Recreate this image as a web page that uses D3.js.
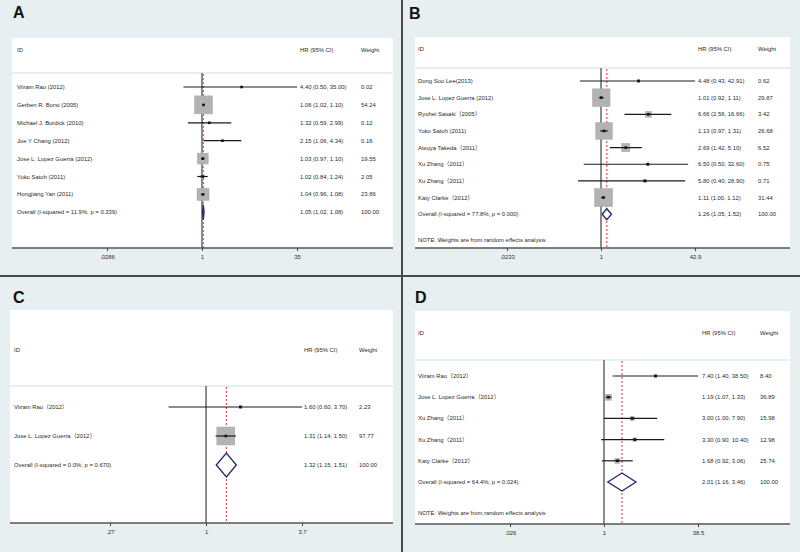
<!DOCTYPE html>
<html><head><meta charset="utf-8">
<script src="https://cdn.jsdelivr.net/npm/d3@7"></script>
<style>
body{margin:0;background:#e8eff1;}
svg{display:block;font-family:"Liberation Sans",Arial,"Noto Sans CJK SC",sans-serif;}
</style>
</head><body>
<svg id="chart" width="800" height="552"></svg>
<script>
// ---------- DATA ----------
// Panel A
const studiesA = ["Viiram Rao (2012)","Gerben R. Borst (2005)","Michael J. Burdick (2010)","Joe Y Chang (2012)","Jose L. Lopez Guerra (2012)","Yoko Satoh (2011)","Hongjiang Yan (2011)"];
const hrA     = [4.40, 1.06, 1.32, 2.15, 1.03, 1.02, 1.04];
const lowA    = [0.50, 1.02, 0.59, 1.06, 0.97, 0.84, 0.96];
const highA   = [35.00, 1.10, 2.99, 4.34, 1.10, 1.24, 1.08];
const weightA = [0.02, 54.24, 0.12, 0.16, 19.55, 2.05, 23.86];
const overallA = [1.05, 1.02, 1.08];
const overallLabelA = "Overall  (I-squared = 11.9%, p = 0.339)";
const ticksA = [0.0286, 1, 35];
const tickLabelsA = [".0286", "1", "35"];

// Panel B
const studiesB = ["Dong Soo Lee(2013)","Jose L. Lopez Guerra (2012)","Ryohei Sasaki（2005）","Yoko Satoh (2011)","Atsuya Takeda（2011）","Xu Zhang（2011）","Xu Zhang（2011）","Katy Clarke（2012）"];
const hrB     = [4.48, 1.01, 6.66, 1.13, 2.69, 6.50, 5.80, 1.11];
const lowB    = [0.43, 0.92, 2.56, 0.97, 1.42, 0.50, 0.40, 1.00];
const highB   = [42.91, 1.11, 16.66, 1.31, 5.10, 32.60, 28.90, 1.12];
const weightB = [0.62, 29.87, 3.42, 26.68, 6.52, 0.75, 0.71, 31.44];
const overallB = [1.26, 1.05, 1.52];
const overallLabelB = "Overall  (I-squared = 77.8%, p = 0.000)";
const ticksB = [0.0233, 1, 42.9];
const tickLabelsB = [".0233", "1", "42.9"];

// Panel C
const studiesC = ["Viiram Rao（2012）","Jose L. Lopez Guerra（2012）"];
const hrC     = [1.60, 1.31];
const lowC    = [0.60, 1.14];
const highC   = [3.70, 1.50];
const weightC = [2.23, 97.77];
const overallC = [1.32, 1.15, 1.51];
const overallLabelC = "Overall  (I-squared = 0.0%, p = 0.670)";
const ticksC = [0.27, 1, 3.7];
const tickLabelsC = [".27", "1", "3.7"];

// Panel D
const studiesD = ["Viiram Rao（2012）","Jose L. Lopez Guerra（2012）","Xu Zhang（2011）","Xu Zhang（2011）","Katy Clarke（2012）"];
const hrD     = [7.40, 1.19, 3.00, 3.30, 1.68];
const lowD    = [1.40, 1.07, 1.00, 0.90, 0.92];
const highD   = [38.50, 1.33, 7.90, 10.40, 3.06];
const weightD = [8.40, 36.89, 15.98, 12.98, 25.74];
const overallD = [2.01, 1.16, 3.46];
const overallLabelD = "Overall  (I-squared = 64.4%, p = 0.024)";
const ticksD = [0.026, 1, 38.5];
const tickLabelsD = [".026", "1", "38.5"];

const noteText = "NOTE: Weights are from random effects analysis";

// ---------- DRAWING ----------
const svg = d3.select("#chart");
const BG = "#e8eff1";
svg.append("rect").attr("width",800).attr("height",552).attr("fill",BG);

const FS = 5.9;
const TXT = "#2a2a2a";

function drawPanel(p) {
  const g = svg.append("g");
  // letter
  g.append("text").attr("x", p.letterX).attr("y", p.letterY)
    .attr("font-size", 16).attr("font-weight", "bold").attr("fill", "#111")
    .attr("font-family", "'Liberation Sans', Arial, sans-serif").text(p.letter);
  // white areas
  g.append("rect").attr("x", p.left).attr("y", p.top).attr("width", p.right - p.left)
    .attr("height", p.sep - p.top).attr("fill", "#fff");
  g.append("rect").attr("x", p.left).attr("y", p.sep + 2).attr("width", p.right - p.left)
    .attr("height", p.axisY - p.sep - 2).attr("fill", "#fff");

  const x = d3.scaleLog().domain([p.ticks[0], p.ticks[2]]).range([p.xLo, p.xHi]);
  const n = p.studies.length;
  const y = d3.scaleLinear().domain([0, n]).range([p.row0, p.row0 + n * p.rowStep]);

  // headers
  const hy = p.headerY;
  g.append("text").attr("x", p.textX).attr("y", hy).attr("dy", "0.35em").attr("font-size", FS).attr("fill", TXT).text("ID");
  g.append("text").attr("x", p.hrX).attr("y", hy).attr("dy", "0.35em").attr("font-size", FS).attr("fill", TXT).text("HR (95% CI)");
  g.append("text").attr("x", p.wX).attr("y", hy).attr("dy", "0.35em").attr("font-size", FS).attr("fill", TXT).text("Weight");

  // null line and overall dashed line
  g.append("line").attr("x1", x(1)).attr("x2", x(1)).attr("y1", p.sep + 1).attr("y2", p.axisY)
    .attr("stroke", "#6f6f6f").attr("stroke-width", 1.6);
  g.append("line").attr("x1", x(p.overall[0])).attr("x2", x(p.overall[0])).attr("y1", p.sep + 2).attr("y2", p.axisY)
    .attr("stroke", "#e0474c").attr("stroke-width", 1.1).attr("stroke-dasharray", "2,2");

  const maxW = d3.max(p.weights);
  const idx = d3.range(n);
  // boxes
  g.selectAll(".box").data(idx).join("rect")
    .attr("x", i => x(p.hr[i]) - p.maxBox * Math.sqrt(p.weights[i] / maxW) / 2)
    .attr("y", i => y(i) - p.maxBox * Math.sqrt(p.weights[i] / maxW) / 2)
    .attr("width", i => p.maxBox * Math.sqrt(p.weights[i] / maxW))
    .attr("height", i => p.maxBox * Math.sqrt(p.weights[i] / maxW))
    .attr("fill", "#b3b3b3").attr("stroke", "#a5a5a5").attr("stroke-width", 0.5);
  // CI lines
  g.selectAll(".ci").data(idx).join("line")
    .attr("x1", i => x(p.low[i])).attr("x2", i => x(p.high[i]))
    .attr("y1", i => y(i)).attr("y2", i => y(i))
    .attr("stroke", "#1a1a1a").attr("stroke-width", 1.2);
  // point estimates
  g.selectAll(".pt").data(idx).join("rect")
    .attr("x", i => x(p.hr[i]) - 1.3).attr("y", i => y(i) - 1.3)
    .attr("width", 2.6).attr("height", 2.6).attr("fill", "#111");
  // labels
  g.selectAll(".lab").data(idx).join("text")
    .attr("x", p.textX).attr("y", i => y(i)).attr("dy", "0.35em")
    .attr("font-size", FS).attr("fill", TXT).text(i => p.studies[i]);
  g.selectAll(".hrt").data(idx).join("text")
    .attr("x", p.hrX).attr("y", i => y(i)).attr("dy", "0.35em")
    .attr("font-size", FS).attr("fill", TXT)
    .text(i => `${p.hr[i].toFixed(2)} (${p.low[i].toFixed(2)}, ${p.high[i].toFixed(2)})`);
  g.selectAll(".wt").data(idx).join("text")
    .attr("x", p.wX).attr("y", i => y(i)).attr("dy", "0.35em")
    .attr("font-size", FS).attr("fill", TXT).text(i => p.weights[i].toFixed(2));

  // overall
  const oy = y(n);
  const o = p.overall;
  g.append("path")
    .attr("d", `M${x(o[1])},${oy} L${x(o[0])},${oy - p.diaH} L${x(o[2])},${oy} L${x(o[0])},${oy + p.diaH} Z`)
    .attr("fill", "#fff").attr("stroke", "#2c2a6e").attr("stroke-width", 1.4);
  g.append("text").attr("x", p.textX).attr("y", oy).attr("dy", "0.35em").attr("font-size", FS).attr("fill", TXT).text(p.overallLabel);
  g.append("text").attr("x", p.hrX).attr("y", oy).attr("dy", "0.35em").attr("font-size", FS).attr("fill", TXT)
    .text(`${o[0].toFixed(2)} (${o[1].toFixed(2)}, ${o[2].toFixed(2)})`);
  g.append("text").attr("x", p.wX).attr("y", oy).attr("dy", "0.35em").attr("font-size", FS).attr("fill", TXT).text("100.00");
  if (p.noteY) {
    g.append("text").attr("x", p.textX).attr("y", p.noteY).attr("dy", "0.35em").attr("font-size", FS).attr("fill", TXT).text(noteText);
  }

  // axis
  g.append("line").attr("x1", p.left).attr("x2", p.right).attr("y1", p.axisY).attr("y2", p.axisY)
    .attr("stroke", "#555").attr("stroke-width", 1.5);
  const ax = g.append("g").attr("transform", `translate(0,${p.axisY})`)
    .call(d3.axisBottom(x).tickValues(p.ticks).tickFormat((d, i) => p.tickLabels[i]).tickSize(3).tickPadding(4));
  ax.select(".domain").remove();
  ax.selectAll(".tick line").attr("stroke", "#444").attr("stroke-width", 1);
  ax.selectAll(".tick text").attr("font-size", FS).attr("fill", TXT)
    .attr("font-family", "'Liberation Sans', Arial, sans-serif");
}

drawPanel({letter:"A", letterX:13, letterY:18, left:12, right:393, top:38, sep:72, axisY:248,
  headerY:50, textX:17, hrX:300, wX:361, row0:87, rowStep:17.9, xLo:107, xHi:297,
  ticks:ticksA, tickLabels:tickLabelsA, studies:studiesA, hr:hrA, low:lowA, high:highA, weights:weightA,
  overall:overallA, overallLabel:overallLabelA, maxBox:18, diaH:7.5, noteY:null});

drawPanel({letter:"B", letterX:409, letterY:19, left:415, right:790, top:37, sep:67, axisY:248,
  headerY:48.5, textX:418, hrX:698, wX:758, row0:81, rowStep:16.65, xLo:507, xHi:695,
  ticks:ticksB, tickLabels:tickLabelsB, studies:studiesB, hr:hrB, low:lowB, high:highB, weights:weightB,
  overall:overallB, overallLabel:overallLabelB, maxBox:18, diaH:5.5, noteY:240});

drawPanel({letter:"C", letterX:13, letterY:303, left:10, right:393, top:310, sep:385, axisY:523,
  headerY:350, textX:14, hrX:304, wX:359, row0:407, rowStep:29, xLo:110, xHi:302,
  ticks:ticksC, tickLabels:tickLabelsC, studies:studiesC, hr:hrC, low:lowC, high:highC, weights:weightC,
  overall:overallC, overallLabel:overallLabelC, maxBox:18, diaH:12, noteY:null});

drawPanel({letter:"D", letterX:415, letterY:303, left:415, right:790, top:311, sep:359, axisY:524,
  headerY:333, textX:418, hrX:702, wX:760, row0:376, rowStep:21.2, xLo:510, xHi:698,
  ticks:ticksD, tickLabels:tickLabelsD, studies:studiesD, hr:hrD, low:lowD, high:highD, weights:weightD,
  overall:overallD, overallLabel:overallLabelD, maxBox:6, diaH:9, noteY:513});

// dividers
svg.append("line").attr("x1", 402).attr("x2", 402).attr("y1", 0).attr("y2", 552).attr("stroke", "#4a4a4a").attr("stroke-width", 2);
svg.append("line").attr("x1", 0).attr("x2", 800).attr("y1", 276).attr("y2", 276).attr("stroke", "#4a4a4a").attr("stroke-width", 2);
</script>
</body></html>
